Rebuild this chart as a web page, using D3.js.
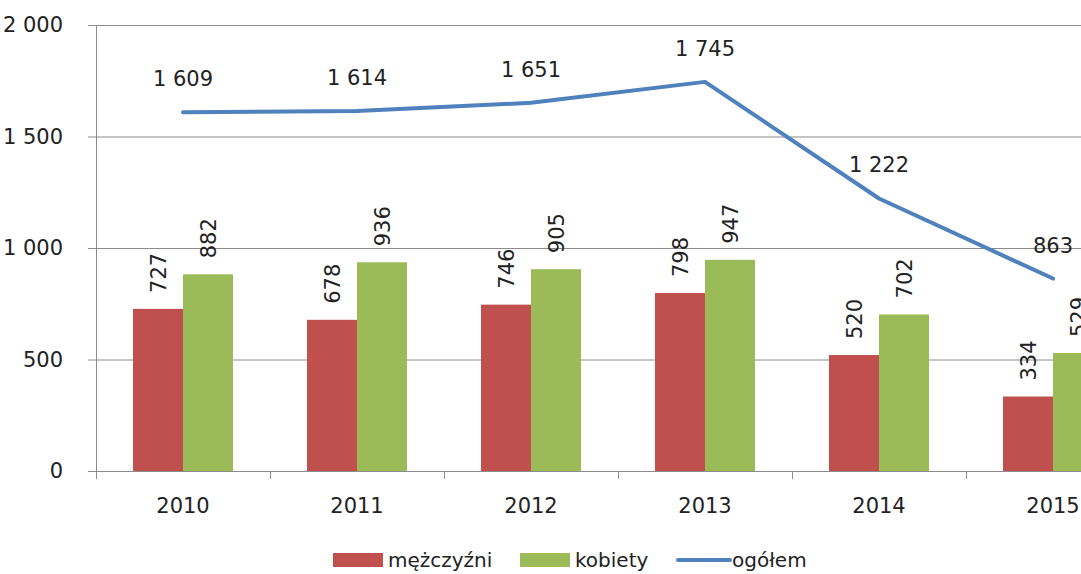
<!DOCTYPE html>
<html lang="pl">
<head>
  <meta charset="UTF-8">
  <title>mężczyźni / kobiety / ogółem 2010-2015</title>
  <script src="https://d3js.org/d3.v7.min.js"></script>
  <style>
    body {
      margin: 0;
      background: #fff;
      overflow: hidden;
    }
    svg {
      display: block;
      font-family: 'DejaVu Sans', sans-serif;
    }
    .axis text {
      font-family: 'DejaVu Sans', sans-serif;
      font-size: 21px;
      fill: #222;
    }
    .val {
      font-size: 21px;
      fill: #222;
    }
    .legend text {
      font-size: 20px;
      fill: #222;
    }
  </style>
</head>
<body>
<svg width="1081" height="574"></svg>
<script>
  const years = ["2010", "2011", "2012", "2013", "2014", "2015"];
  const men = [727, 678, 746, 798, 520, 334];
  const women = [882, 936, 905, 947, 702, 529];
  const total = [1609, 1614, 1651, 1745, 1222, 863];
  const yTicks = [0, 500, 1000, 1500, 2000];

  const colors = {men: "#C0504D", women: "#9BBB59", total: "#4F81BD"};

  // plot area runs past the right edge of the picture (cropped chart)
  const plotLeft = 96, plotTop = 25, plotBottom = 471, catW = 174;

  const svg = d3.select("svg");
  const pl = d3.formatLocale({decimal: ",", thousands: " ", grouping: [3], currency: ["", " zł"]});
  const fmt = pl.format(",d");

  const x = d3.scaleBand()
    .domain(years)
    .range([plotLeft, plotLeft + catW * years.length]);

  // each bar 50px wide, 37px gap each side of the pair
  const xInner = d3.scaleBand()
    .domain(["men", "women"])
    .range([37, catW - 37]);

  const y = d3.scaleLinear()
    .domain([0, 2000])
    .range([plotBottom, plotTop]);

  // left ticks + labels
  const yAxis = svg.append("g")
    .attr("class", "axis")
    .attr("transform", `translate(${plotLeft},0)`)
    .call(d3.axisLeft(y).tickValues(yTicks).tickSize(8).tickPadding(25)
      .tickFormat(d => fmt(d)));
  yAxis.select(".domain").remove();
  yAxis.selectAll(".tick line").attr("stroke", "#8c8c8c");

  // gridlines
  svg.append("g")
    .selectAll("line")
    .data(yTicks)
    .join("line")
    .attr("x1", plotLeft)
    .attr("x2", 1081)
    .attr("y1", d => y(d) + 0.5)
    .attr("y2", d => y(d) + 0.5)
    .attr("stroke", "#8c8c8c")
    .attr("stroke-width", 1);

  svg.append("line")
    .attr("x1", plotLeft + 0.5).attr("x2", plotLeft + 0.5)
    .attr("y1", plotTop).attr("y2", plotBottom)
    .attr("stroke", "#8c8c8c");

  // bars
  const rows = years.map((yr, i) => ({year: yr, men: men[i], women: women[i], total: total[i]}));

  const groups = svg.append("g")
    .selectAll("g")
    .data(rows)
    .join("g")
    .attr("transform", d => `translate(${x(d.year)},0)`);

  ["men", "women"].forEach(key => {
    groups.append("rect")
      .attr("x", xInner(key))
      .attr("y", d => y(d[key]))
      .attr("width", xInner.bandwidth())
      .attr("height", d => plotBottom - y(d[key]))
      .attr("fill", colors[key]);

    groups.append("text")
      .attr("class", "val")
      .attr("transform", d => `translate(${xInner(key) + xInner.bandwidth() / 2 + 8},${y(d[key]) - 16}) rotate(-90)`)
      .attr("text-anchor", "start")
      .text(d => fmt(d[key]));
  });

  // x axis
  const xAxis = svg.append("g")
    .attr("class", "axis")
    .attr("transform", `translate(0,${plotBottom})`)
    .call(d3.axisBottom(x).tickSize(0).tickPadding(27));
  xAxis.select(".domain").remove();
  svg.append("line")
    .attr("x1", plotLeft).attr("x2", 1081)
    .attr("y1", plotBottom + 0.5).attr("y2", plotBottom + 0.5)
    .attr("stroke", "#8c8c8c");
  svg.append("g")
    .selectAll("line")
    .data(d3.range(years.length + 1))
    .join("line")
    .attr("x1", i => plotLeft + i * x.step() + 0.5)
    .attr("x2", i => plotLeft + i * x.step() + 0.5)
    .attr("y1", plotBottom)
    .attr("y2", plotBottom + 8)
    .attr("stroke", "#8c8c8c");

  // total line
  const cx = d => x(d.year) + x.bandwidth() / 2;
  svg.append("path")
    .datum(rows)
    .attr("fill", "none")
    .attr("stroke", colors.total)
    .attr("stroke-width", 4)
    .attr("stroke-linecap", "round")
    .attr("stroke-linejoin", "round")
    .attr("d", d3.line().x(cx).y(d => y(d.total)));

  svg.append("g")
    .selectAll("text")
    .data(rows)
    .join("text")
    .attr("class", "val")
    .attr("x", cx)
    .attr("y", d => y(d.total) - 26)
    .attr("text-anchor", "middle")
    .text(d => fmt(d.total));

  // legend
  const legendItems = [
    {name: "mężczyźni", key: "men", type: "rect", x: 333},
    {name: "kobiety", key: "women", type: "rect", x: 520},
    {name: "ogółem", key: "total", type: "line", x: 678}
  ];
  const lg = svg.append("g").attr("class", "legend").attr("transform", "translate(0,560)");
  legendItems.forEach(it => {
    if (it.type === "rect") {
      lg.append("rect")
        .attr("x", it.x).attr("y", -7)
        .attr("width", 50).attr("height", 14)
        .attr("fill", colors[it.key]);
    } else {
      lg.append("line")
        .attr("x1", it.x).attr("x2", it.x + 52)
        .attr("y1", 0).attr("y2", 0)
        .attr("stroke", colors[it.key])
        .attr("stroke-width", 4)
        .attr("stroke-linecap", "round");
    }
    lg.append("text")
      .attr("x", it.x + (it.type === "rect" ? 55 : 54))
      .attr("y", 0)
      .attr("dy", "0.35em")
      .text(it.name);
  });
</script>
</body>
</html>
